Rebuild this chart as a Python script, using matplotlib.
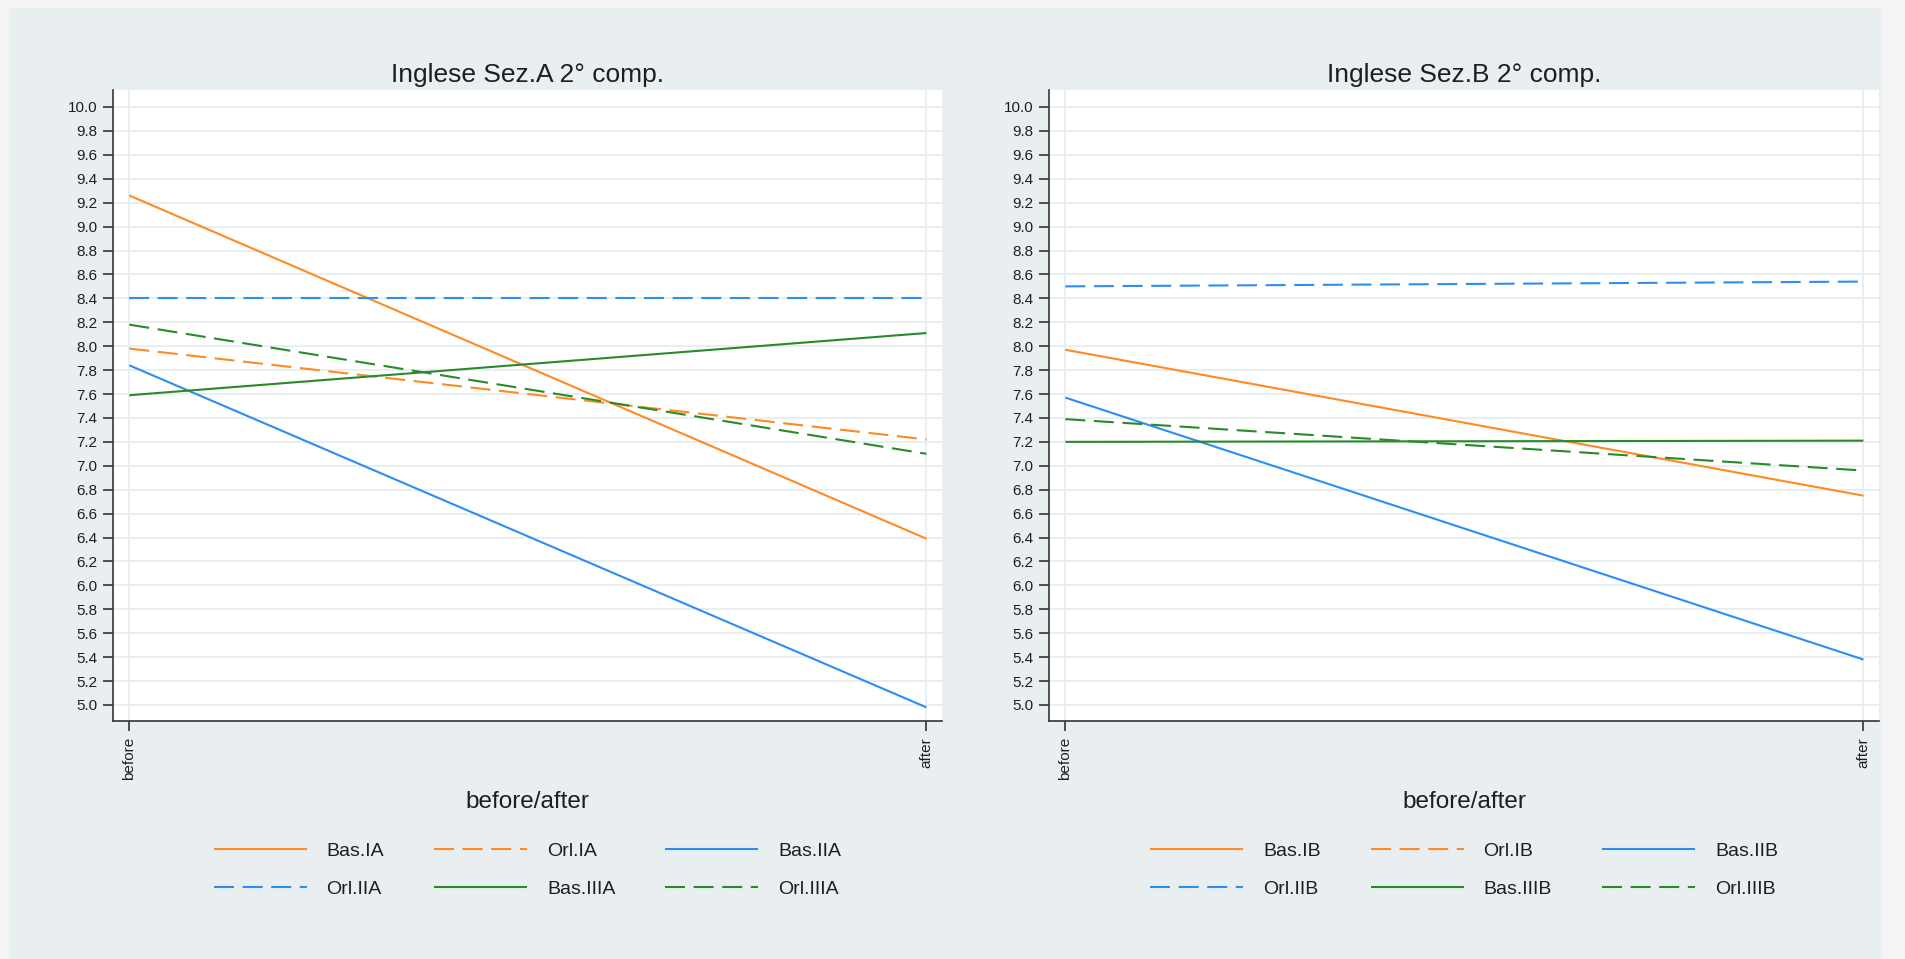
import numpy as np
import matplotlib
matplotlib.use("Agg")
import matplotlib.pyplot as plt
from matplotlib.patches import Rectangle

plt.rcParams['font.family'] = ['Liberation Sans', 'DejaVu Sans']
plt.rcParams['lines.scale_dashes'] = False

# ---------------- data ----------------
x_labels = ['before', 'after']
titles = ['Inglese Sez.A 2° comp.', 'Inglese Sez.B 2° comp.']
x_title = 'before/after'

labels_A = ['Bas.IA', 'Orl.IA', 'Bas.IIA', 'Orl.IIA', 'Bas.IIIA', 'Orl.IIIA']
before_A = [9.26, 7.98, 7.84, 8.40, 7.59, 8.18]
after_A = [6.39, 7.22, 4.98, 8.40, 8.11, 7.10]

labels_B = ['Bas.IB', 'Orl.IB', 'Bas.IIB', 'Orl.IIB', 'Bas.IIIB', 'Orl.IIIB']
before_B = [7.97, np.nan, 7.57, 8.50, 7.20, 7.39]
after_B = [6.75, np.nan, 5.38, 8.54, 7.21, 6.96]

y_ticks = [round(5.0 + 0.2 * i, 1) for i in range(26)]

# ---------------- style ----------------
ORANGE = '#FF8A24'
BLUE = '#2B8EF2'
GREEN = '#2A8A2A'
colors = [ORANGE, ORANGE, BLUE, BLUE, GREEN, GREEN]
styles = ['solid', 'dashed', 'solid', 'dashed', 'solid', 'dashed']
DASH = (14.4, 6.2)
PANEL = '#E9EFF1'
GRID = '#E8EEF2'
TXT = '#1E1E1E'
AX = '#333333'

W, H = 1906, 959
fig = plt.figure(figsize=(W / 100, H / 100), dpi=100)
fig.patch.set_facecolor('#F4F4F4')
fig.patches.append(Rectangle((9 / W, 0), 1872 / W, (H - 8) / H,
                             transform=fig.transFigure, facecolor=PANEL,
                             edgecolor='none', zorder=-10))

axes_px = [(113, 942), (1049, 1879)]
top_px, bot_px = 90, 721

datasets = [(labels_A, before_A, after_A), (labels_B, before_B, after_B)]

for k, ((x0, x1), (labs, bef, aft)) in enumerate(zip(axes_px, datasets)):
    ax = fig.add_axes([x0 / W, 1 - bot_px / H, (x1 - x0) / W, (bot_px - top_px) / H])
    ax.set_zorder(1)
    ax.set_facecolor('white')
    xs = np.arange(len(x_labels))
    handles = []
    for i, lab in enumerate(labs):
        ln, = ax.plot(xs, [bef[i], aft[i]], color=colors[i], lw=1.5,
                      linestyle=styles[i], label=lab, zorder=3,
                      solid_capstyle='butt', dash_capstyle='butt')
        if styles[i] == 'dashed':
            ln.set_dashes(DASH)
        handles.append(ln)

    ax.set_xlim(-0.0205, 1.0195)
    ax.set_ylim(4.866, 10.142)
    ax.set_yticks(y_ticks)
    ax.set_yticklabels([f'{v:.1f}' for v in y_ticks])
    ax.set_xticks(xs)
    ax.set_xticklabels(x_labels, rotation=90)
    ax.grid(True, color=GRID, lw=1.4, zorder=1)
    ax.set_axisbelow(True)
    for s in ['top', 'right']:
        ax.spines[s].set_visible(False)
    for s in ['left', 'bottom']:
        ax.spines[s].set_color(AX)
        ax.spines[s].set_linewidth(1.2)
    ax.tick_params(axis='both', colors=AX, width=1.2, length=7, labelcolor=TXT)
    ax.tick_params(axis='y', labelsize=11, pad=4.5)
    ax.tick_params(axis='x', labelsize=11, pad=4.5)

    ax.set_title(titles[k], fontsize=19, pad=6, color=TXT)
    ax.set_xlabel(x_title, fontsize=17.5, color=TXT)
    ax.xaxis.set_label_coords(0.5, -(808 - bot_px) / (bot_px - top_px))
    ax.xaxis.label.set_va('baseline')

    order = [0, 3, 1, 4, 2, 5]
    leg = ax.legend([handles[j] for j in order], [labs[j] for j in order],
                    ncol=3, loc='center',
                    bbox_to_anchor=(0.5, -(870 - bot_px) / (bot_px - top_px)),
                    frameon=False, fontsize=14, handlelength=4.78,
                    handletextpad=1.03, columnspacing=2.57, labelspacing=1.05)
    for t in leg.get_texts():
        t.set_color(TXT)

fig.savefig('out.png', dpi=100, facecolor=fig.get_facecolor())
